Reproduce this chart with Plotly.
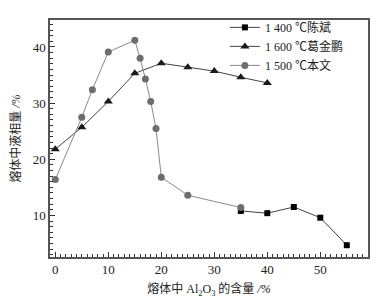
import plotly.graph_objects as go

x_1400 = [35, 40, 45, 50, 55]
y_1400 = [10.8, 10.4, 11.5, 9.6, 4.7]

x_1600 = [0, 5, 10, 15, 20, 25, 30, 35, 40]
y_1600 = [21.8, 25.7, 30.3, 35.3, 37.1, 36.4, 35.7, 34.6, 33.6]

x_1500 = [0, 5, 7, 10, 15, 16, 17, 18, 19, 20, 25, 35]
y_1500 = [16.4, 27.5, 32.4, 39.1, 41.2, 38.0, 34.3, 30.3, 25.5, 16.8, 13.6, 11.4]

names = ["1 400 ℃陈斌", "1 600 ℃葛金鹏", "1 500 ℃本文"]

font_fam = "Liberation Serif, Noto Sans CJK SC, serif"

fig = go.Figure()
fig.add_trace(go.Scatter(x=x_1400, y=y_1400, name=names[0], mode="lines+markers",
                         line=dict(color="#444444", width=1),
                         marker=dict(symbol="square", size=6, color="black")))
fig.add_trace(go.Scatter(x=x_1600, y=y_1600, name=names[1], mode="lines+markers",
                         line=dict(color="#444444", width=1),
                         marker=dict(symbol="triangle-up", size=8, color="#1a1a1a")))
fig.add_trace(go.Scatter(x=x_1500, y=y_1500, name=names[2], mode="lines+markers",
                         line=dict(color="#8a8a8a", width=1),
                         marker=dict(symbol="circle", size=7, color="#6e6e6e")))

axis_common = dict(
    showline=True, linecolor="#555555", linewidth=1.5, mirror=True,
    ticks="inside", ticklen=5, tickwidth=1.2, tickcolor="#333333",
    showgrid=False, zeroline=False, automargin=False,
    tickfont=dict(family=font_fam, size=13, color="#222222"),
    minor=dict(ticks="inside", ticklen=3, tickwidth=1, tickcolor="#333333", dtick=1),
)

fig.update_xaxes(range=[-1, 59], tickvals=[0, 10, 20, 30, 40, 50],
                 title=dict(text="熔体中 Al<sub>2</sub>O<sub>3</sub> 的含量 <i>/%</i>",
                            font=dict(family=font_fam, size=12, color="#222222"), standoff=9),
                 **axis_common)
fig.update_yaxes(range=[2.6, 44.8], tickvals=[10, 20, 30, 40],
                 title=dict(text="熔体中液相量 <i>/%</i>",
                            font=dict(family=font_fam, size=12, color="#222222"), standoff=10),
                 **axis_common)

fig.update_layout(
    width=380, height=290,
    margin=dict(l=41.5, r=20, t=5, b=41),
    paper_bgcolor="white", plot_bgcolor="white",
    font=dict(family=font_fam, size=12, color="#222222"),
    legend=dict(x=0.55, y=1.03, xanchor="left", yanchor="top",
                bgcolor="rgba(0,0,0,0)", itemwidth=30, tracegroupgap=0,
                font=dict(family=font_fam, size=12, color="#222222")),
)

fig.write_html("out.html")
